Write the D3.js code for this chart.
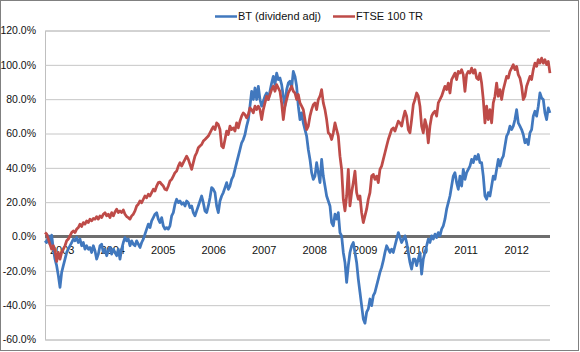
<!DOCTYPE html>
<html>
<head>
<meta charset="utf-8">
<script src="https://cdnjs.cloudflare.com/ajax/libs/d3/7.8.5/d3.min.js"></script>
<style>
    body { margin: 0; background: #fff; }
    text { font-family: "Liberation Sans", Arial, sans-serif; }
</style>
</head>
<body>
<div id="chart-area"></div>
<script>

// sample dates (decimal years)
var dates = [
    2003.170, 2003.203, 2003.236, 2003.269, 2003.302, 2003.335, 2003.368, 2003.401, 2003.434, 2003.467,
    2003.500, 2003.533, 2003.566, 2003.599, 2003.632, 2003.665, 2003.698, 2003.731, 2003.764, 2003.797,
    2003.830, 2003.863, 2003.896, 2003.929, 2003.962, 2003.995, 2004.028, 2004.061, 2004.094, 2004.127,
    2004.160, 2004.193, 2004.226, 2004.259, 2004.292, 2004.325, 2004.358, 2004.391, 2004.424, 2004.457,
    2004.490, 2004.523, 2004.556, 2004.589, 2004.622, 2004.655, 2004.688, 2004.721, 2004.754, 2004.787,
    2004.820, 2004.853, 2004.886, 2004.919, 2004.952, 2004.985, 2005.018, 2005.051, 2005.084, 2005.117,
    2005.150, 2005.183, 2005.216, 2005.249, 2005.282, 2005.315, 2005.348, 2005.381, 2005.414, 2005.447,
    2005.480, 2005.513, 2005.546, 2005.579, 2005.612, 2005.645, 2005.678, 2005.711, 2005.744, 2005.777,
    2005.810, 2005.843, 2005.876, 2005.909, 2005.942, 2005.975, 2006.008, 2006.041, 2006.074, 2006.107,
    2006.140, 2006.173, 2006.206, 2006.239, 2006.272, 2006.305, 2006.338, 2006.371, 2006.404, 2006.437,
    2006.470, 2006.503, 2006.536, 2006.569, 2006.602, 2006.635, 2006.668, 2006.701, 2006.734, 2006.767,
    2006.800, 2006.833, 2006.866, 2006.899, 2006.932, 2006.965, 2006.998, 2007.031, 2007.064, 2007.097,
    2007.130, 2007.163, 2007.196, 2007.229, 2007.262, 2007.295, 2007.328, 2007.361, 2007.394, 2007.427,
    2007.460, 2007.493, 2007.526, 2007.559, 2007.592, 2007.625, 2007.658, 2007.691, 2007.724, 2007.757,
    2007.790, 2007.823, 2007.856, 2007.889, 2007.922, 2007.955, 2007.988, 2008.021, 2008.054, 2008.087,
    2008.120, 2008.153, 2008.186, 2008.219, 2008.252, 2008.285, 2008.318, 2008.351, 2008.384, 2008.417,
    2008.450, 2008.483, 2008.516, 2008.549, 2008.582, 2008.615, 2008.648, 2008.681, 2008.714, 2008.747,
    2008.780, 2008.813, 2008.846, 2008.879, 2008.912, 2008.945, 2008.978, 2009.011, 2009.044, 2009.077,
    2009.110, 2009.143, 2009.176, 2009.209, 2009.242, 2009.275, 2009.308, 2009.341, 2009.374, 2009.407,
    2009.440, 2009.473, 2009.506, 2009.539, 2009.572, 2009.605, 2009.638, 2009.671, 2009.704, 2009.737,
    2009.770, 2009.803, 2009.836, 2009.869, 2009.902, 2009.935, 2009.968, 2010.001, 2010.034, 2010.067,
    2010.100, 2010.133, 2010.166, 2010.199, 2010.232, 2010.265, 2010.298, 2010.331, 2010.364, 2010.397,
    2010.430, 2010.463, 2010.496, 2010.529, 2010.562, 2010.595, 2010.628, 2010.661, 2010.694, 2010.727,
    2010.760, 2010.793, 2010.826, 2010.859, 2010.892, 2010.925, 2010.958, 2010.991, 2011.024, 2011.057,
    2011.090, 2011.123, 2011.156, 2011.189, 2011.222, 2011.255, 2011.288, 2011.321, 2011.354, 2011.387,
    2011.420, 2011.453, 2011.486, 2011.519, 2011.552, 2011.585, 2011.618, 2011.651, 2011.684, 2011.717,
    2011.750, 2011.783, 2011.816, 2011.849, 2011.882, 2011.915, 2011.948, 2011.981, 2012.014, 2012.047,
    2012.080, 2012.113, 2012.146, 2012.179, 2012.212, 2012.245, 2012.278, 2012.311, 2012.344, 2012.377,
    2012.410, 2012.443, 2012.476, 2012.509, 2012.542, 2012.575, 2012.608, 2012.641, 2012.674, 2012.707,
    2012.740, 2012.773, 2012.806, 2012.839, 2012.872, 2012.905, 2012.938, 2012.971, 2013.004, 2013.037,
    2013.070, 2013.103, 2013.136, 2013.169
];

// BT (dividend adj), % return
var btValues = [
    -2.5, -3.5, 0.4, -4.5, 0.8, -7.4, -13.2, -17.0, -22.8, -29.6,
    -20.9, -17.0, -13.2, -9.3, -7.4, -5.4, -3.5, -1.5, -2.5, -0.6,
    -3.5, -1.5, -5.4, -3.5, -7.4, -5.4, -7.4, -6.4, -9.3, -5.4,
    -8.3, -13.2, -10.3, -5.4, -4.5, -9.3, -7.4, -11.2, -8.3, -6.4,
    -10.3, -7.4, -9.3, -11.2, -7.4, -13.2, -7.4, -3.5, -0.6, -2.5,
    -1.5, -5.4, -2.5, -4.5, -5.4, -2.5, -4.5, -6.4, -3.5, -1.5,
    1.4, 4.3, 7.2, 5.2, 9.1, 11.0, 13.0, 13.9, 10.1, 8.1,
    11.0, 6.2, 4.3, 5.2, 4.3, 6.2, 12.0, 13.9, 18.8, 21.7,
    19.7, 20.7, 18.8, 19.7, 17.8, 20.7, 19.7, 16.8, 17.8, 13.9,
    12.0, 14.9, 17.8, 20.7, 23.6, 19.7, 14.9, 13.9, 17.8, 22.6,
    28.5, 27.5, 25.6,
    17.8, 13.9, 20.7, 23.6, 25.6, 28.5, 31.4, 27.5, 29.4, 33.3,
    35.2, 39.1, 43.0, 46.8, 50.7, 54.6, 56.5, 59.4, 64.3, 68.1,
    75.9, 84.6, 79.8, 86.5, 79.8, 87.5, 79.8, 75.9, 78.8, 81.7,
    83.6, 79.8, 84.6, 89.4, 93.3, 88.5, 95.2, 91.4, 92.3, 88.5,
    81.7, 75.9, 85.6, 89.4, 90.4, 86.5, 96.2, 93.3, 87.5, 75.9,
    68.1, 72.0, 66.2, 62.3, 58.5, 50.7, 44.9, 37.2, 33.3, 35.2,
    43.0, 37.2, 31.4, 44.9, 35.2, 29.4, 23.6, 20.7, 17.8, 8.1,
    6.2, 13.0, 10.1, 13.9, 2.3, 0.4, -9.3, -15.1, -26.7, -17.0,
    -9.3, -5.4, -3.5, -9.3, -15.1, -24.8, -32.5, -40.3, -48.0, -50.5,
    -44.1, -42.2, -36.4, -40.3, -34.5, -32.5, -28.6, -24.8, -20.9,
    -18.0, -14.1, -9.3, -5.4, -7.4, -9.3, -7.4, -9.3, -5.4, -1.5,
    2.3, -0.6, -3.5, -1.5, 0.4, -3.5, -9.3, -15.1, -19.0, -13.2,
    -13.2, -17.0, -13.2, -9.3, -21.9, -13.2, -9.3, -5.4, -1.5, -3.5,
    0.4, -1.5, 1.4, -0.6, 2.3, 0.4, 4.3, 6.2, 10.1, 15.9,
    19.7, 23.6, 29.4, 35.2, 37.2, 31.4, 27.5, 35.2, 29.4, 39.1,
    33.3, 37.2, 39.1, 41.0, 44.9, 43.0, 46.8, 44.9, 47.8, 43.0,
    43.0, 35.2, 23.6, 21.7, 25.6, 23.6, 29.4, 35.2, 33.3, 39.1,
    44.9, 41.0, 44.9, 46.8, 52.7, 58.5, 60.4, 64.3, 62.3, 64.3,
    68.1, 73.9, 66.2, 64.3, 62.3, 59.4, 54.6, 56.5, 53.6, 60.4,
    62.3, 70.1, 73.0, 70.1, 75.9, 83.6, 80.7, 79.8, 72.0, 68.1,
    74.9, 72.0
];

// FTSE 100 TR, % return
var ftseValues = [
    2.3, 1.4, -1.5, -4.5, -7.4, -5.4, -8.3, -14.5, -9.3, -13.2,
    -9.3, -7.4, -5.4, -2.5, -1.5, 0.4, 2.3, 3.3, 2.3, 4.3,
    5.2, 7.2, 5.8, 8.1, 7.2, 9.1, 8.1, 10.1, 9.1, 10.5,
    10.1, 11.6, 10.1, 12.0, 11.0, 13.0, 13.9, 12.0, 13.0, 11.0,
    13.9, 12.0, 14.3, 15.9, 13.9, 14.9, 13.9, 15.5, 13.0, 11.6,
    11.0, 10.1, 12.0, 13.0, 14.9, 17.8, 18.8, 20.7, 19.7, 21.7,
    23.6, 22.6, 24.6, 23.6, 25.6, 27.5, 26.5, 29.4, 31.4, 31.7,
    30.4, 29.4, 27.5, 27.1, 29.4, 32.3, 33.3, 35.2, 37.2, 38.1,
    41.0, 43.0, 41.0, 43.0, 44.9, 46.8, 44.9, 42.0, 39.1, 43.0,
    46.8, 48.8, 51.7, 52.7, 53.6, 55.6, 56.5, 57.5, 58.5, 60.4,
    62.3, 63.9, 62.3,
    66.2, 65.2, 62.3, 52.7, 51.7, 56.5, 61.4, 59.4, 64.3, 62.3,
    63.3, 61.4, 66.2, 63.3, 67.2, 70.1, 72.0, 71.0, 69.1, 71.0,
    74.9, 73.9, 72.0, 75.9, 73.9, 75.9, 73.9, 68.1, 73.9, 77.8,
    81.7, 79.8, 82.7, 85.6, 87.5, 84.6, 88.5, 86.5, 84.6, 77.8,
    68.1, 75.9, 79.8, 83.6, 85.6, 87.5, 84.6, 83.6, 79.8, 82.7,
    77.8, 75.9, 73.9, 68.1, 62.3, 64.3, 70.1, 73.9, 76.8, 77.8,
    73.9, 79.8, 81.7, 85.6, 77.8, 73.9, 68.1, 60.4, 59.4, 56.5,
    60.4, 66.2, 62.3, 58.5, 46.8, 39.1, 21.7, 14.9, 23.6, 39.1,
    17.8, 25.6, 31.4, 38.1, 25.6, 21.7, 23.6, 13.9, 8.1, 12.0,
    15.9, 21.7, 25.6, 35.2, 36.2, 33.3, 35.2, 31.4, 39.1,
    41.0, 44.9, 48.8, 52.7, 56.5, 59.4, 62.3, 63.3, 61.4, 64.3,
    67.2, 66.2, 64.3, 69.1, 73.0, 70.1, 62.3, 60.4, 68.1, 76.8,
    79.8, 83.6, 81.7, 75.9, 64.3, 60.4, 68.1, 64.3, 54.6, 64.3,
    70.1, 72.0, 73.0, 70.1, 77.8, 79.8, 81.7, 84.6, 87.5, 85.6,
    89.4, 83.6, 91.4, 93.3, 95.2, 91.4, 96.2, 95.2, 97.2, 94.3,
    84.6, 94.3, 96.2, 95.2, 98.1, 95.2, 97.2, 92.3, 91.4, 95.2,
    89.4, 79.8, 66.2, 75.9, 68.1, 73.9, 66.2, 77.8, 81.7, 89.4,
    81.7, 85.6, 79.8, 85.6, 89.4, 93.3, 92.3, 96.2, 98.1, 100.1,
    97.2, 99.1, 94.3, 92.3, 87.5, 79.8, 81.7, 87.5, 90.4, 93.3,
    91.4, 97.2, 101.0, 99.1, 103.0, 101.0, 103.9, 101.0, 103.0, 100.1,
    102.0, 95.2
];

var yearLabels = ["2003", "2004", "2005", "2006", "2007", "2008", "2009", "2010", "2011", "2012"];
var yTicks = [-60, -40, -20, 0, 20, 40, 60, 80, 100, 120];

var seriesNames = ["BT (dividend adj)", "FTSE 100 TR"];
var seriesColors = ["#4178be", "#be4b48"];

var margin = { left: 45, right: 30, top: 30.5, bottom: 12.5 },
    width = 580 - margin.left - margin.right,
    height = 352 - margin.top - margin.bottom;

var svg = d3.select("#chart-area")
    .append("svg")
    .attr("width", 580)
    .attr("height", 352);

// outer frame
svg.append("rect")
    .attr("x", 0.5)
    .attr("y", 0.5)
    .attr("width", 578)
    .attr("height", 350)
    .attr("fill", "#fff")
    .attr("stroke", "#808080");

var g = svg.append("g")
    .attr("transform", "translate(" + margin.left + "," + margin.top + ")");

// scales
var x = d3.scaleLinear().domain([2003.17, 2013.17]).range([0, width]);
var y = d3.scaleLinear().domain([-60, 120]).range([height, 0]);

// gridlines + y labels
var yAxisCall = d3.axisLeft(y)
    .tickValues(yTicks)
    .tickSize(-width)
    .tickPadding(9)
    .tickFormat(function(d) { return d.toFixed(1) + "%"; });

var yAxis = g.append("g")
    .attr("class", "y axis")
    .call(yAxisCall);
yAxis.select(".domain").attr("stroke", "#bfbfbf");
yAxis.selectAll(".tick line").attr("stroke", "#c6c6c6");
yAxis.selectAll(".tick text")
    .attr("font-size", "10.5px")
    .attr("fill", "#111");

// x labels sit in the middle of each year
var xAxisCall = d3.axisBottom(x)
    .tickValues(yearLabels.map(function(d) { return +d + 0.5; }))
    .tickSize(0)
    .tickPadding(10)
    .tickFormat(function(d) { return String(Math.floor(d)); });

var xAxis = g.append("g")
    .attr("class", "x axis")
    .attr("transform", "translate(0," + y(0) + ")")
    .call(xAxisCall);
xAxis.select(".domain").remove();
xAxis.selectAll(".tick text")
    .attr("font-size", "11px")
    .attr("fill", "#111");

// zero line
g.append("line")
    .attr("x1", 0)
    .attr("x2", width)
    .attr("y1", y(0))
    .attr("y2", y(0))
    .attr("stroke", "#6e6e6e")
    .attr("stroke-width", 3);

// lines
var line = d3.line()
    .x(function(d) { return x(d.date); })
    .y(function(d) { return y(d.value); });

[btValues, ftseValues].forEach(function(vals, i) {
    var data = dates.map(function(d, j) { return { date: d, value: vals[j] }; });
    g.append("path")
        .attr("class", "line")
        .attr("fill", "none")
        .attr("stroke", seriesColors[i])
        .attr("stroke-width", 2.75)
        .attr("stroke-linejoin", "round")
        .attr("d", line(data));
});

// legend
var legendX = [215, 333];
seriesNames.forEach(function(name, i) {
    var lg = svg.append("g")
        .attr("transform", "translate(" + legendX[i] + ",16.5)");
    lg.append("line")
        .attr("x1", 0)
        .attr("x2", 22)
        .attr("stroke", seriesColors[i])
        .attr("stroke-width", 2.5);
    lg.append("text")
        .attr("x", 23)
        .attr("dy", "0.35em")
        .attr("font-size", "11px")
        .attr("fill", "#111")
        .text(name);
});

</script>
</body>
</html>
